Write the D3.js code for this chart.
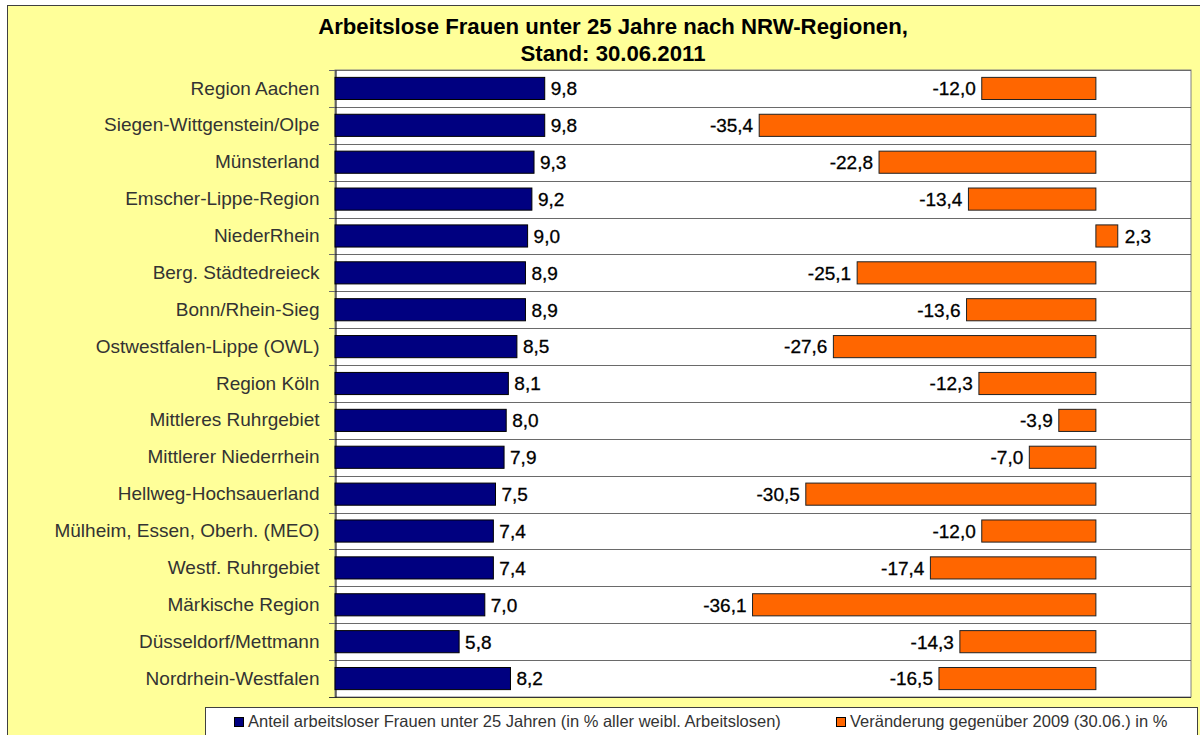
<!DOCTYPE html>
<html>
<head>
<meta charset="utf-8">
<script src="https://cdn.jsdelivr.net/npm/d3@7"></script>
<style>
  html, body { margin: 0; padding: 0; background: #fff; }
  svg { display: block; }
  text { font-family: "Liberation Sans", Arial, sans-serif; }
</style>
</head>
<body>
<svg id="chart" width="1200" height="735"></svg>
<script>
// Regions (top to bottom)
const regions = [
  "Region Aachen", "Siegen-Wittgenstein/Olpe", "Münsterland", "Emscher-Lippe-Region",
  "NiederRhein", "Berg. Städtedreieck", "Bonn/Rhein-Sieg", "Ostwestfalen-Lippe (OWL)",
  "Region Köln", "Mittleres Ruhrgebiet", "Mittlerer Niederrhein", "Hellweg-Hochsauerland",
  "Mülheim, Essen, Oberh. (MEO)", "Westf. Ruhrgebiet", "Märkische Region",
  "Düsseldorf/Mettmann", "Nordrhein-Westfalen"
];
// Share of unemployed women under 25 (% of all unemployed women)
const shareValues = [9.8, 9.8, 9.3, 9.2, 9.0, 8.9, 8.9, 8.5, 8.1, 8.0, 7.9, 7.5, 7.4, 7.4, 7.0, 5.8, 8.2];
// Change vs. 30.06.2009 in %
const changeValues = [-12.0, -35.4, -22.8, -13.4, 2.3, -25.1, -13.6, -27.6, -12.3, -3.9, -7.0, -30.5, -12.0, -17.4, -36.1, -14.3, -16.5];
// Value axes
const shareDomain = [0, 40];
const changeDomain = [-80, 10];
// Title and legend texts
const titleLines = ["Arbeitslose Frauen unter 25 Jahre nach NRW-Regionen,", "Stand: 30.06.2011"];
const seriesNames = [
  "Anteil arbeitsloser Frauen unter 25 Jahren (in % aller weibl. Arbeitslosen)",
  "Veränderung gegenüber 2009 (30.06.) in %"
];
const seriesColors = ["#000080", "#FF6600"];

const svg = d3.select("#chart");
const de = d3.formatLocale({ decimal: ",", thousands: ".", grouping: [3], currency: ["", " €"], minus: "-" });
const fmt = de.format(".1f");

// Chart frame
svg.append("rect")
  .attr("x", 7.5).attr("y", 5.5).attr("width", 1200).attr("height", 740)
  .attr("fill", "#FFFF99").attr("stroke", "#404040").attr("stroke-width", 1);

// Title: sized so the first line spans the header width
const title = svg.append("g").selectAll("text").data(titleLines).join("text")
  .attr("x", 613).attr("y", (d, i) => 34 + i * 27)
  .attr("text-anchor", "middle")
  .attr("font-family", "'Open Sans', 'Liberation Sans', sans-serif")
  .attr("font-size", 20).attr("font-weight", 600).attr("fill", "#000")
  .text(d => d);
const titleW = title.node().getComputedTextLength();
title.attr("font-size", 20 * 590 / titleW);

// Plot area
const plot = { left: 335, right: 1191, top: 70, bottom: 697 };
const y = d3.scaleBand().domain(regions).range([plot.top, plot.bottom]).padding(0);
const xShare = d3.scaleLinear().domain(shareDomain).range([plot.left, plot.right]);
const xChange = d3.scaleLinear().domain(changeDomain).range([plot.left, plot.right]);

svg.append("rect")
  .attr("x", plot.left).attr("y", plot.top)
  .attr("width", plot.right - plot.left).attr("height", plot.bottom - plot.top)
  .attr("fill", "#fff").attr("stroke", "#808080").attr("stroke-width", 1);

// Row separators
const boundaries = regions.map(r => y(r)).concat([plot.bottom]);
svg.append("g").selectAll("line").data(boundaries).join("line")
  .attr("x1", plot.left - 6).attr("x2", plot.right)
  .attr("y1", d => Math.round(d) + 0.5).attr("y2", d => Math.round(d) + 0.5)
  .attr("stroke", (d, i) => i === boundaries.length - 1 ? "#333" : "#6a6a6a")
  .attr("stroke-width", 1);

// Category axis
const yAxis = svg.append("g")
  .attr("transform", `translate(${plot.left + 0.5},0)`)
  .call(d3.axisLeft(y).tickSize(0).tickPadding(16));
yAxis.select(".domain").attr("stroke", "#000");
yAxis.selectAll("text")
  .attr("font-size", 19).attr("fill", "#333")
  .attr("font-family", "'Liberation Sans', Arial, sans-serif");

const barH = y.bandwidth() * 0.6;
const barOff = (y.bandwidth() - barH) / 2;

// Share bars
svg.append("g").selectAll("rect").data(regions).join("rect")
  .attr("x", xShare(0))
  .attr("y", r => y(r) + barOff)
  .attr("width", (r, i) => xShare(shareValues[i]) - xShare(0))
  .attr("height", barH)
  .attr("fill", seriesColors[0]).attr("stroke", "#000").attr("stroke-width", 1);

svg.append("g").selectAll("text").data(regions).join("text")
  .attr("x", (r, i) => xShare(shareValues[i]) + 6)
  .attr("y", r => y(r) + y.bandwidth() / 2)
  .attr("dy", "0.36em")
  .attr("font-size", 19).attr("fill", "#000")
  .attr("stroke", "#000").attr("stroke-width", 0.3)
  .text((r, i) => fmt(shareValues[i]));

// Change bars
svg.append("g").selectAll("rect").data(regions).join("rect")
  .attr("x", (r, i) => Math.min(xChange(0), xChange(changeValues[i])))
  .attr("y", r => y(r) + barOff)
  .attr("width", (r, i) => Math.abs(xChange(changeValues[i]) - xChange(0)))
  .attr("height", barH)
  .attr("fill", seriesColors[1]).attr("stroke", "#222").attr("stroke-width", 1);

svg.append("g").selectAll("text").data(regions).join("text")
  .attr("x", (r, i) => changeValues[i] < 0 ? xChange(changeValues[i]) - 6 : xChange(changeValues[i]) + 7)
  .attr("y", r => y(r) + y.bandwidth() / 2)
  .attr("dy", "0.36em")
  .attr("text-anchor", (r, i) => changeValues[i] < 0 ? "end" : "start")
  .attr("font-size", 19).attr("fill", "#000")
  .attr("stroke", "#000").attr("stroke-width", 0.3)
  .text((r, i) => fmt(changeValues[i]));

// Legend
const legend = svg.append("g");
legend.append("rect")
  .attr("x", 205.5).attr("y", 707.5).attr("width", 992).attr("height", 40)
  .attr("fill", "#fff").attr("stroke", "#404040").attr("stroke-width", 1);
const legendX = [234, 836];
const items = legend.selectAll("g.item").data(seriesNames).join("g").attr("class", "item")
  .attr("transform", (d, i) => `translate(${legendX[i]},0)`);
items.append("rect")
  .attr("x", 0.5).attr("y", 717.5).attr("width", 9).attr("height", 9)
  .attr("fill", (d, i) => seriesColors[i]).attr("stroke", "#000").attr("stroke-width", 1);
items.append("text")
  .attr("x", 14).attr("y", 727)
  .attr("font-size", 16.5).attr("fill", "#333")
  .text(d => d);
</script>
</body>
</html>
